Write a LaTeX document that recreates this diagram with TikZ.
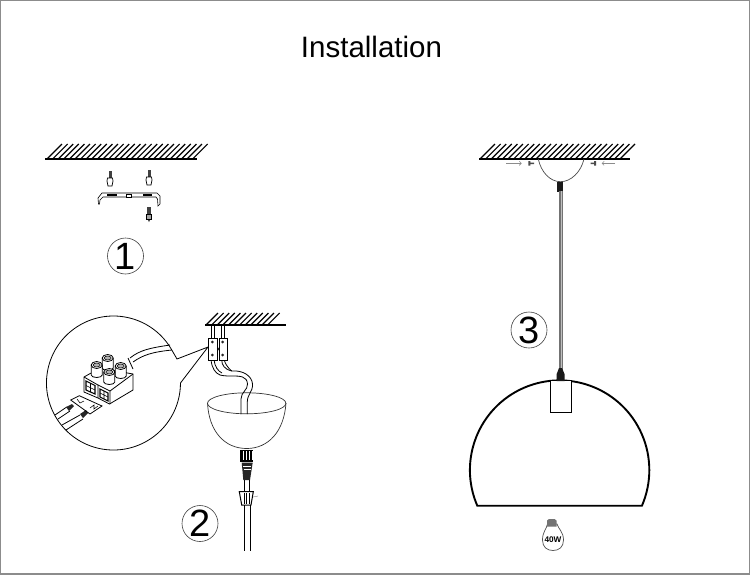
\documentclass[tikz,border=0pt]{standalone}
\usepackage{fontspec}
\usetikzlibrary{arrows.meta}
\setmainfont{Liberation Sans}
\tikzset{
  px/.style={x=1pt,y=-1pt},
  ink/.style={draw=black,line width=0.8pt},
  thin ink/.style={draw=black,line width=0.55pt},
  hatch/.style={draw=black,line width=1.2pt},
  ceiling/.style={draw=black,line width=1.5pt},
  badge/.style={circle,draw=black!75,line width=0.6pt,minimum size=36pt,inner sep=0pt,font=\fontsize{38}{38}\selectfont},
  part/.style={draw=black,line width=0.7pt,fill=white},
  window/.style={draw=black,line width=1.1pt,fill=white},
}
\newcommand{\hatchrow}[4]{% x start, span, y bottom, height
  \foreach \hx in {0,5.6,...,#2}{\draw[hatch] (#1+\hx,#3) -- ++(#4,-#4);}}
\begin{document}
\begin{tikzpicture}[px]
\useasboundingbox (0,0) rectangle (750,574);
\fill[white] (0,0) rectangle (750,574);
\draw[black!45,line width=1.5pt] (0,0) rectangle (750,574);
\node (title) at (371.5,47) {\fontsize{29.5}{32}\selectfont Installation};

% --- step 1
\hatchrow{47}{146}{159}{15}
\draw[ceiling] (45,159) -- (197,159);
\foreach \sx/\sy in {110/171,149/170}{
  \fill[black!75] (\sx-1.5,\sy) rectangle (\sx+1.5,\sy+7);
  \draw[part] (\sx-2.5,\sy+7) -- (\sx+2.5,\sy+7) -- (\sx+3,\sy+10) -- (\sx+2,\sy+15) -- (\sx-2,\sy+15) -- (\sx-3,\sy+10) -- cycle;
}
% bracket
\draw[part,line width=0.6pt,fill=white] (98.5,204) -- (98,198) -- (102,193) -- (157,193) -- (160,196) -- (160,204) -- (158,206) -- (157.5,199) -- (156,197) -- (103,197) -- (100,200) -- (99.5,204) -- cycle;
\draw[black,line width=1.6pt] (107,195) -- (117,195) (143,195) -- (152,195);
\draw[part,line width=0.5pt] (126,194) rectangle (131,197);
\fill[black!75] (147,207) rectangle (151,217);
\fill[black!75] (146.5,217) -- (151.5,217) -- (149,222) -- cycle;
\draw[part,fill=black!35,line width=0.5pt] (146.5,214) rectangle (151.5,219);
\node[badge] (one) at (125.5,256) {1};

% --- step 2 zoom bubble
\draw[ink,fill=white] (208,347) -- (177,359) -- (171.5,349.5)
  arc[start angle=-30,end angle=-360,radius=67] -- cycle;
% cable into terminal
\draw[ink] (130,358) .. controls (140,350) and (150,348) .. (170,345);
\draw[ink] (133,362) .. controls (143,355) and (152,352) .. (172,350);
\draw[ink] (128,358) -- (133,369);
% left wires
\draw[ink] (55,415) -- (66.7,407);
\draw[ink] (58,419) -- (70,411);
\draw[ink] (62,425) -- (80,415);
\draw[ink] (66,430) -- (83,419);
\fill[black!85] (66,407) -- (72,404) -- (74,406) -- (69,411) -- cycle;
\fill[black!85] (80,414) -- (86,410) -- (88,413) -- (83,418) -- cycle;
% L/N plate
\draw[ink] (70.7,400) -- (79.3,395.7) -- (102,406) -- (90,414) -- cycle;
\draw[thin ink] (77,399) -- (80,403) -- (84,401);
\draw[thin ink] (90,408) -- (94,405) -- (94,409) -- (98,406);
% terminal body
\draw[ink,fill=white] (84,377) -- (100,368) -- (133,374) -- (133,390) -- (109.5,404) -- (98,398) -- (84,392) -- cycle;
\draw[ink] (84,377) -- (98,385) -- (98,398);
\draw[ink] (98,385) -- (110,391) -- (110,404);
\draw[ink] (110,391) -- (133,374);
\draw[window] (86,381) -- (95,385.5) -- (95,394) -- (86,390) -- cycle;
\draw[window] (100,389) -- (108,393) -- (108,401) -- (100,397) -- cycle;
\draw[thin ink] (86,385.5) -- (95,390) (90.5,383) -- (90.5,392);
\draw[thin ink] (100,393) -- (108,397) (104,391) -- (104,399);
% terminal screws
\foreach \cx/\cy in {107.7/358,96.7/365,120.7/366,109.3/372}{
  \fill[white] (\cx-5.5,\cy) rectangle (\cx+5.5,\cy+11);
  \draw[ink] (\cx-5.5,\cy) -- (\cx-5.5,\cy+10) arc[start angle=180,end angle=0,x radius=5.5,y radius=2.5] -- (\cx+5.5,\cy);
  \draw[ink,fill=white] (\cx,\cy) ellipse[x radius=5.5,y radius=3.5];
  \draw[thin ink,fill=black!30] (\cx,\cy) ellipse[x radius=3.5,y radius=2];
}

% --- step 2 ceiling
\hatchrow{206}{66}{325}{12}
\draw[ceiling] (205,325) -- (286,325);
% cables
\draw[ink] (211,325) -- (211,340) (214,325) -- (214,340);
\draw[ink] (221.7,325) -- (221.7,340) (224.3,325) -- (224.3,340);
% bowl
\draw[draw=black!80,line width=0.7pt,fill=white] (207.5,403) .. controls (209,432) and (225,448.5) .. (246.7,448.5) .. controls (268,448.5) and (284,432) .. (286,403);
\draw[draw=black!80,line width=0.7pt] (246.7,403.3) ellipse[x radius=39.2,y radius=10.5];
% cable loop
\draw[ink] (211,360) .. controls (212,368) and (215,373) .. (220,375) .. controls (224,376) and (228,376) .. (231.7,376) .. controls (240,376) and (247,376) .. (247.5,384) .. controls (248,390) and (241,392) .. (241,399) -- (241,414);
\draw[ink] (214,360) .. controls (215,367) and (218,371) .. (222,373);
\draw[ink] (221.7,360) .. controls (222,365) and (224,369) .. (231.7,371) .. controls (243,370) and (252,376) .. (252.5,384) .. controls (253,392) and (247.3,394) .. (247.3,402) -- (247.3,414);
\draw[ink] (224.3,360) .. controls (225,363) and (227,367) .. (231.7,371);
% connector block
\draw[ink,fill=white] (208.7,338.7) rectangle (217.7,360);
\draw[ink,fill=white] (219,338.7) rectangle (227.3,360);
\foreach \bx/\by in {212.3/342,212.3/355,222.7/342,222.7/355}{\fill[black!85] (\bx,\by) circle (1.5);}
\draw[thin ink] (218.2,349) circle (1);
% fittings
\fill[black] (240,450) rectangle (253.3,462);
\foreach \lx in {243,246,249,252}{\draw[white,line width=0.5pt] (\lx,451) -- (\lx,460);}
\fill[black!85] (241.7,462.5) -- (252.7,462.5) -- (250,480) -- (243.3,480) -- cycle;
\draw[white,line width=0.5pt] (243,466) -- (251,466) (243.5,469) -- (250.5,469);
\draw[ink] (244.7,480) -- (244.7,492) (249.3,480) -- (249.3,492);
\draw[part,line width=1pt] (239.3,491.7) -- (253.3,491.7) -- (251,505) -- (241.7,505) -- cycle;
\foreach \lx in {244.5,246.7,249}{\draw[black,line width=0.7pt] (\lx,493) -- (\lx,504);}
\draw[black!50,line width=0.4pt] (253,497) -- (258,496);
\draw[ink] (244.3,505) -- (244.3,551) (250,505) -- (250,551);
\node[badge] (two) at (200,523.5) {2};

% --- step 3
\hatchrow{480}{143}{159}{15}
\draw[ceiling] (479,159) -- (630,159);
\draw[draw=black!70,line width=0.7pt] (538.3,159) .. controls (541,172) and (550,181.7) .. (560.5,181.7) .. controls (571,181.7) and (581,172) .. (584,159);
\fill[black!90] (557.3,181.7) rectangle (563.3,191.7);
\draw[black!55,line width=3.4pt] (561,191) -- (561,370);
\draw[black!25,line width=1pt] (561,191) -- (561,370);
\draw[black!45,line width=0.6pt,-{Straight Barb[length=2pt]}] (506,163.3) -- (521.7,163.3);
\draw[black!45,line width=0.6pt,-{Straight Barb[length=2pt]}] (615,163.3) -- (601.7,163.3);
\fill[black!70] (528.3,161) rectangle (530.3,165.5) (530.3,162.5) rectangle (534,164);
\fill[black!70] (594,161) rectangle (596,165.5) (590.7,162.5) rectangle (594,164);
% dome
\draw[black,line width=1.9pt] (477.3,505.7) arc[start angle=156.6,end angle=383.4,radius=89.7] -- cycle;
\draw[black,line width=0.8pt,fill=white] (550.7,380.7) rectangle (571.7,412.3);
\fill[black!90] (556.7,381) -- (556.7,374) -- (559,368) -- (562,368) -- (564.5,374) -- (564.5,381) -- cycle;
\node[badge] (three) at (529,330) {3};
% bulb
\draw[draw=black!70,line width=0.7pt,fill=white] (547.5,524) .. controls (546.5,529) and (542.5,532) .. (542.5,540)
  .. controls (542.5,547) and (547,550.5) .. (553,550.5) .. controls (559,550.5) and (563.5,547) .. (563.5,540)
  .. controls (563.5,532) and (558.5,529) .. (557,524) -- cycle;
\fill[black!55] (547,520.5) -- (549,519) -- (554.5,519) -- (556.5,520.5) -- (556.5,526.5) -- (547,526.5) -- cycle;
\node[font=\bfseries\fontsize{8.2}{9}\selectfont,inner sep=0pt] (watt) at (553,539.5) {40W};
\end{tikzpicture}
\end{document}
